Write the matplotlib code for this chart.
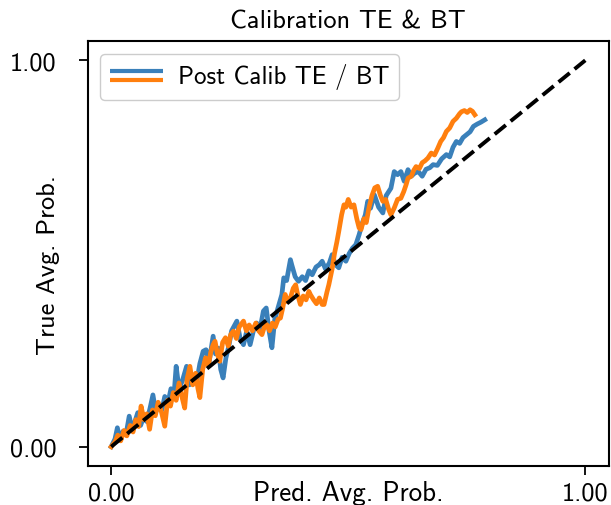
import matplotlib
matplotlib.use('Agg')
import matplotlib.pyplot as plt
from matplotlib.lines import Line2D
from matplotlib.legend_handler import HandlerBase

plt.rcParams['font.family'] = ['cmss10', 'DejaVu Sans']
plt.rcParams['axes.unicode_minus'] = False
plt.rcParams['axes.formatter.use_mathtext'] = True

# calibration curves (pred avg prob, true avg prob)
te_x = [0.000, 0.008, 0.013, 0.018, 0.025, 0.031, 0.038, 0.044, 0.050, 0.056,
        0.062, 0.068, 0.075, 0.082, 0.088, 0.094, 0.100, 0.107, 0.113, 0.120,
        0.126, 0.132, 0.137, 0.143, 0.150, 0.159, 0.165, 0.172, 0.180, 0.187,
        0.194, 0.200, 0.206, 0.215, 0.220, 0.226, 0.231, 0.236, 0.242, 0.248,
        0.254, 0.265, 0.272, 0.279, 0.286, 0.293, 0.300, 0.307, 0.314, 0.321,
        0.327, 0.333, 0.339, 0.345, 0.352, 0.360, 0.364, 0.370, 0.378, 0.381,
        0.388, 0.395, 0.403, 0.410, 0.417, 0.424, 0.432, 0.439, 0.445, 0.452,
        0.460, 0.466, 0.473, 0.480, 0.487, 0.495, 0.502, 0.509, 0.516, 0.523,
        0.530, 0.536, 0.541, 0.547, 0.555, 0.564, 0.573, 0.580, 0.590, 0.597,
        0.604, 0.611, 0.618, 0.626, 0.633, 0.640, 0.648, 0.656, 0.664, 0.672,
        0.679, 0.688, 0.697, 0.707, 0.714, 0.721, 0.728, 0.735, 0.742, 0.749,
        0.757, 0.764, 0.772, 0.780, 0.788]
te_y = [0.000, 0.020, 0.049, 0.020, 0.040, 0.030, 0.079, 0.045, 0.065, 0.088,
        0.055, 0.075, 0.065, 0.100, 0.134, 0.090, 0.110, 0.095, 0.130, 0.115,
        0.150, 0.125, 0.208, 0.150, 0.170, 0.208, 0.160, 0.185, 0.165, 0.215,
        0.247, 0.251, 0.215, 0.286, 0.240, 0.255, 0.200, 0.178, 0.230, 0.260,
        0.300, 0.325, 0.280, 0.264, 0.300, 0.264, 0.300, 0.320, 0.305, 0.351,
        0.359, 0.300, 0.256, 0.330, 0.360, 0.394, 0.437, 0.430, 0.484, 0.470,
        0.440, 0.428, 0.440, 0.430, 0.455, 0.445, 0.465, 0.471, 0.480, 0.460,
        0.475, 0.497, 0.471, 0.463, 0.490, 0.480, 0.500, 0.514, 0.523, 0.549,
        0.580, 0.600, 0.635, 0.617, 0.652, 0.620, 0.605, 0.650, 0.669, 0.712,
        0.704, 0.712, 0.687, 0.717, 0.700, 0.708, 0.712, 0.700, 0.718, 0.722,
        0.730, 0.728, 0.745, 0.756, 0.750, 0.775, 0.790, 0.785, 0.800, 0.807,
        0.815, 0.829, 0.835, 0.840, 0.846]

bt_x = [0.000, 0.008, 0.014, 0.020, 0.027, 0.033, 0.040, 0.046, 0.052, 0.058,
        0.063, 0.069, 0.075, 0.081, 0.087, 0.093, 0.099, 0.106, 0.113, 0.119,
        0.125, 0.131, 0.137, 0.143, 0.149, 0.155, 0.160, 0.166, 0.172, 0.178,
        0.183, 0.187, 0.193, 0.199, 0.205, 0.210, 0.215, 0.219, 0.224, 0.229,
        0.235, 0.241, 0.247, 0.252, 0.258, 0.264, 0.270, 0.279, 0.285, 0.291,
        0.298, 0.305, 0.311, 0.318, 0.323, 0.328, 0.334, 0.340, 0.346, 0.352,
        0.357, 0.362, 0.367, 0.372, 0.378, 0.384, 0.389, 0.394, 0.399, 0.405,
        0.411, 0.417, 0.420, 0.427, 0.433, 0.439, 0.445, 0.449, 0.455, 0.459,
        0.466, 0.471, 0.476, 0.480, 0.486, 0.491, 0.495, 0.500, 0.506, 0.512,
        0.518, 0.523, 0.527, 0.533, 0.538, 0.544, 0.550, 0.556, 0.562, 0.568,
        0.573, 0.579, 0.585, 0.590, 0.597, 0.604, 0.611, 0.617, 0.622, 0.626,
        0.633, 0.638, 0.643, 0.650, 0.656, 0.662, 0.668, 0.675, 0.682, 0.689,
        0.695, 0.701, 0.707, 0.714, 0.721, 0.728, 0.735, 0.739, 0.745, 0.751,
        0.757, 0.762, 0.767]
bt_y = [0.000, 0.012, 0.030, 0.015, 0.042, 0.028, 0.055, 0.038, 0.070, 0.052,
        0.105, 0.070, 0.085, 0.045, 0.095, 0.080, 0.115, 0.090, 0.053, 0.120,
        0.105, 0.140, 0.120, 0.165, 0.130, 0.100, 0.175, 0.208, 0.160, 0.190,
        0.150, 0.127, 0.200, 0.230, 0.210, 0.245, 0.264, 0.273, 0.240, 0.221,
        0.270, 0.282, 0.260, 0.290, 0.299, 0.280, 0.310, 0.325, 0.300, 0.315,
        0.300, 0.320, 0.300, 0.290, 0.310, 0.316, 0.300, 0.320, 0.310, 0.330,
        0.333, 0.360, 0.394, 0.375, 0.385, 0.410, 0.419, 0.390, 0.368, 0.390,
        0.380, 0.402, 0.394, 0.380, 0.370, 0.385, 0.368, 0.368, 0.400, 0.419,
        0.460, 0.500, 0.530, 0.557, 0.600, 0.626, 0.620, 0.640, 0.620, 0.626,
        0.590, 0.566, 0.562, 0.590, 0.580, 0.620, 0.650, 0.670, 0.674, 0.650,
        0.635, 0.640, 0.615, 0.600, 0.618, 0.640, 0.643, 0.660, 0.678, 0.695,
        0.700, 0.715, 0.725, 0.720, 0.735, 0.740, 0.747, 0.760, 0.755, 0.773,
        0.790, 0.800, 0.816, 0.825, 0.842, 0.850, 0.862, 0.867, 0.870, 0.865,
        0.872, 0.868, 0.859]

blue = '#3a80ba'
orange = '#ff7f0e'


class TwoLines(HandlerBase):
    # blue line on top of orange line in the legend
    def create_artists(self, legend, orig_handle, xdescent, ydescent,
                       width, height, fontsize, trans):
        l1 = Line2D([-xdescent, width - xdescent], [height * 0.72] * 2,
                    color=blue, lw=3, solid_capstyle='butt')
        l2 = Line2D([-xdescent, width - xdescent], [height * 0.22] * 2,
                    color=orange, lw=3, solid_capstyle='butt')
        l1.set_transform(trans)
        l2.set_transform(trans)
        return [l1, l2]


fig = plt.figure(figsize=(6.11, 5.06), dpi=100)
ax = fig.add_axes([87.5 / 611, 39 / 506, 521.5 / 611, 425 / 506])

ax.plot(te_x, te_y, color=blue, lw=3.4)
ax.plot(bt_x, bt_y, color=orange, lw=3.4)
ax.plot([0, 1], [0, 1], 'k--', lw=2.8)

ax.set_xlim(-0.05, 1.05)
ax.set_ylim(-0.05, 1.05)
ax.set_xticks([0, 1])
ax.set_yticks([0, 1])
ax.set_xticklabels(['0.00', '1.00'])
ax.set_yticklabels(['0.00', '1.00'])
ax.tick_params(labelsize=19, length=6.5, width=1.3)
ax.tick_params(axis='y', pad=16)
ax.tick_params(axis='x', pad=5)
for s in ax.spines.values():
    s.set_linewidth(1.5)

ax.set_title('Calibration TE & BT', fontsize=19, pad=10)
ax.set_xlabel('Pred. Avg. Prob.', fontsize=19.5)
ax.set_ylabel('True Avg. Prob.', fontsize=19)
ax.xaxis.set_label_coords(0.5, -0.034)
ax.yaxis.set_label_coords(-0.052, 0.475)

ax.legend([object()], ['Post Calib TE / BT'], handler_map={object: TwoLines()},
          loc='upper left', fontsize=18, handlelength=2.1, handletextpad=0.6,
          borderpad=0.4, edgecolor='#cccccc', framealpha=1.0)

fig.savefig('out.png', dpi=100)
